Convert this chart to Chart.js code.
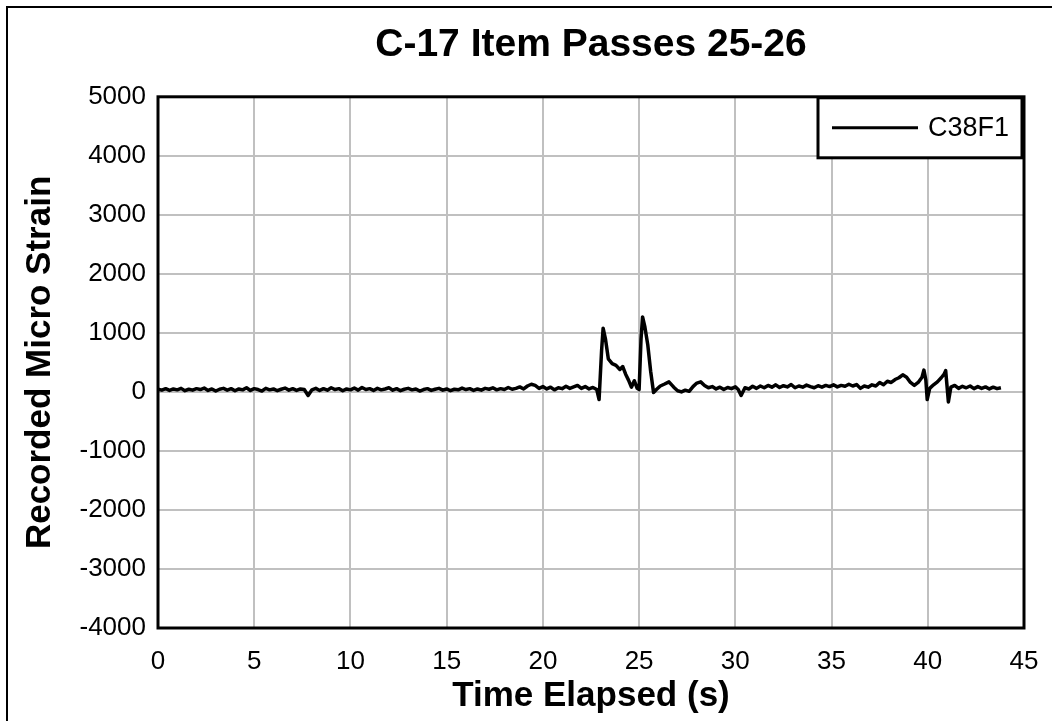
<!DOCTYPE html>
<html>
<head>
<meta charset="utf-8">
<script src="https://cdn.jsdelivr.net/npm/chart.js@4.4.0/dist/chart.umd.min.js"></script>
<style>
	html, body { margin: 0; padding: 0; background: #fff; overflow: hidden; }
	#wrap { width: 1052px; height: 721px; position: relative; }
</style>
</head>
<body>
<div id="wrap"><canvas id="strainChart" width="1052" height="721"></canvas></div>
<script>
// 图表数据
const chartTitle = 'C-17 Item Passes 25-26';
const seriesName = 'C38F1';
const xTitle = 'Time Elapsed (s)';
const yTitle = 'Recorded Micro Strain';

// 时间 (s)
const timeS = [
	0.0, 0.2, 0.4, 0.6, 0.8, 1.0, 1.2, 1.4, 1.6, 1.8,
	2.0, 2.2, 2.4, 2.6, 2.8, 3.0, 3.2, 3.4, 3.6, 3.8,
	4.0, 4.2, 4.4, 4.6, 4.8, 5.0, 5.2, 5.4, 5.6, 5.8,
	6.0, 6.2, 6.4, 6.6, 6.8, 7.0, 7.2, 7.4, 7.6, 7.8,
	8.0, 8.2, 8.4, 8.6, 8.8, 9.0, 9.2, 9.4, 9.6, 9.8,
	10.0, 10.2, 10.4, 10.6, 10.8, 11.0, 11.2, 11.4, 11.6, 11.8,
	12.0, 12.2, 12.4, 12.6, 12.8, 13.0, 13.2, 13.4, 13.6, 13.8,
	14.0, 14.2, 14.4, 14.6, 14.8, 15.0, 15.2, 15.4, 15.6, 15.8,
	16.0, 16.2, 16.4, 16.6, 16.8, 17.0, 17.2, 17.4, 17.6, 17.8,
	18.0, 18.2, 18.4, 18.6, 18.8, 19.0, 19.2, 19.4, 19.6, 19.8,
	20.0, 20.2, 20.4, 20.6, 20.8, 21.0, 21.2, 21.4, 21.6, 21.8,
	22.0, 22.2, 22.4, 22.6, 22.8, 22.92, 23.05, 23.13, 23.25, 23.4,
	23.6, 23.8, 24.0, 24.15, 24.3, 24.45, 24.6, 24.75, 24.9, 25.0,
	25.1, 25.18, 25.3, 25.45, 25.6, 25.75, 25.9, 26.1, 26.3, 26.55,
	26.8, 27.0, 27.2, 27.4, 27.6, 27.8, 28.0, 28.2, 28.4, 28.6,
	28.8, 29.0, 29.2, 29.4, 29.6, 29.8, 30.0, 30.15, 30.3, 30.5,
	30.7, 30.9, 31.1, 31.3, 31.5, 31.7, 31.9, 32.1, 32.3, 32.5,
	32.7, 32.9, 33.1, 33.3, 33.5, 33.7, 33.9, 34.1, 34.3, 34.5,
	34.7, 34.9, 35.1, 35.3, 35.5, 35.7, 35.9, 36.1, 36.3, 36.5,
	36.7, 36.9, 37.1, 37.3, 37.5, 37.7, 37.9, 38.1, 38.3, 38.5,
	38.7, 38.9, 39.1, 39.3, 39.5, 39.7, 39.8, 39.9, 39.97, 40.1,
	40.3, 40.5, 40.7, 40.85, 40.93, 41.0, 41.07, 41.2, 41.4, 41.6,
	41.8, 42.0, 42.2, 42.4, 42.6, 42.8, 43.0, 43.2, 43.4, 43.6,
	43.8
];

// 应变值 (micro strain)
const strainC38F1 = [
	45, 30, 55, 25, 50, 35, 60, 20, 45, 30,
	55, 40, 65, 25, 50, 15, 45, 60, 30, 55,
	20, 50, 35, 70, 25, 55, 40, 15, 60, 35,
	50, 20, 45, 65, 30, 55, 25, 50, 40, -60,
	35, 60, 25, 55, 30, 70, 40, 55, 20, 50,
	35, 65, 30, 75, 40, 55, 25, 60, 35, 50,
	70, 30, 55, 20, 45, 60, 35, 50, 15, 40,
	55, 25, 45, 60, 30, 50, 20, 45, 35, 65,
	40, 55, 25, 50, 30, 60, 45, 70, 35, 55,
	40, 75, 45, 60, 85, 50, 100, 130, 110, 60,
	90, 50, 80, 35, 70, 55, 95, 60, 85, 110,
	60, 90, 50, 75, 40, -130, 700, 1080, 900, 560,
	480, 450, 380, 430, 300, 200, 80, 190, 60, 40,
	900, 1270, 1100, 800, 350, -10, 40, 100, 130, 170,
	80, 20, 0, 30, 10, 90, 150, 170, 110, 70,
	90, 50, 80, 40, 75, 55, 85, 40, -60, 70,
	50, 95, 60, 100, 70, 110, 80, 120, 75, 105,
	85, 125, 70, 100, 80, 115, 90, 70, 105, 80,
	110, 90, 120, 85, 110, 95, 130, 100, 125, 60,
	100, 80, 120, 100, 160, 120, 180, 160, 210, 240,
	290, 250, 160, 110, 160, 250, 370, 200, -130, 60,
	120, 170, 240, 300, 360, 100, -170, 80, 110, 60,
	95, 70, 100, 55, 90, 60, 85, 50, 80, 55,
	70
];

// 坐标轴范围
const xMin = 0, xMax = 45, xStep = 5;
const yMin = -4000, yMax = 5000, yStep = 1000;

const fontFamily = '"Liberation Sans", Arial, Helvetica, sans-serif';

// 外框 + 白色背景
const frameBorder = {
	id: 'frameBorder',
	beforeDraw(chart) {
		const ctx = chart.ctx;
		ctx.save();
		ctx.fillStyle = '#ffffff';
		ctx.fillRect(0, 0, chart.width, chart.height);
		ctx.strokeStyle = '#000000';
		ctx.lineWidth = 2;
		ctx.strokeRect(7, 7, chart.width + 20, chart.height + 20);
		ctx.restore();
	}
};

// 绘图区边框和图例
const plotBoxLegend = {
	id: 'plotBoxLegend',
	afterDraw(chart) {
		const ctx = chart.ctx;
		const a = chart.chartArea;
		ctx.save();
		ctx.strokeStyle = '#000000';
		ctx.lineWidth = 3;
		ctx.strokeRect(a.left, a.top, a.right - a.left, a.bottom - a.top);

		// 图例框
		const boxRight = a.right - 2;
		const boxLeft = boxRight - 204;
		const boxTop = a.top + 1;
		const boxH = 60;
		ctx.fillStyle = '#ffffff';
		ctx.fillRect(boxLeft, boxTop, boxRight - boxLeft, boxH);
		ctx.strokeRect(boxLeft, boxTop, boxRight - boxLeft, boxH);

		const midY = boxTop + boxH / 2;
		const ds = chart.data.datasets[0];
		ctx.strokeStyle = ds.borderColor;
		ctx.lineWidth = 3;
		ctx.beginPath();
		ctx.moveTo(boxLeft + 14, midY);
		ctx.lineTo(boxLeft + 100, midY);
		ctx.stroke();

		ctx.fillStyle = '#000000';
		ctx.font = '27px ' + fontFamily;
		ctx.textBaseline = 'middle';
		ctx.textAlign = 'left';
		ctx.fillText(ds.label, boxLeft + 110, midY + 1);
		ctx.restore();
	}
};

const points = timeS.map((t, i) => ({ x: t, y: strainC38F1[i] }));

const ctx = document.getElementById('strainChart').getContext('2d');
const strainChart = new Chart(ctx, {
	type: 'line',
	data: {
		datasets: [{
			label: seriesName,
			data: points,
			borderColor: '#000000',
			borderWidth: 3.5,
			borderJoinStyle: 'round',
			pointRadius: 0,
			tension: 0,
			fill: false
		}]
	},
	options: {
		responsive: false,
		animation: false,
		layout: {
			padding: { left: 0, right: 28, top: 0, bottom: 0 }
		},
		plugins: {
			legend: { display: false },
			tooltip: { enabled: false },
			title: {
				display: true,
				fullSize: false,
				text: chartTitle,
				color: '#000000',
				font: { family: fontFamily, size: 39, weight: 'bold' },
				padding: { top: 22, bottom: 28 }
			}
		},
		scales: {
			x: {
				type: 'linear',
				min: xMin,
				max: xMax,
				afterFit(scale) {
					scale.height = 93;
					scale.paddingLeft = 0;
					scale.paddingRight = 0;
				},
				ticks: {
					stepSize: xStep,
					color: '#000000',
					padding: 18,
					maxRotation: 0,
					font: { family: fontFamily, size: 26 },
					callback: value => String(value)
				},
				grid: { color: '#c0c0c0', lineWidth: 2, drawTicks: false },
				border: { display: false },
				title: {
					display: true,
					text: xTitle,
					color: '#000000',
					font: { family: fontFamily, size: 35, weight: 'bold' },
					padding: { top: 0, bottom: 4 }
				}
			},
			y: {
				type: 'linear',
				min: yMin,
				max: yMax,
				afterFit(scale) { scale.width = 158; },
				ticks: {
					stepSize: yStep,
					color: '#000000',
					padding: 12,
					font: { family: fontFamily, size: 26 },
					callback: value => String(value)
				},
				grid: { color: '#c0c0c0', lineWidth: 2, drawTicks: false },
				border: { display: false },
				title: {
					display: true,
					text: yTitle,
					color: '#000000',
					font: { family: fontFamily, size: 35, weight: 'bold' },
					padding: { top: 19, bottom: 0 }
				}
			}
		}
	},
	plugins: [frameBorder, plotBoxLegend]
});
</script>
</body>
</html>
